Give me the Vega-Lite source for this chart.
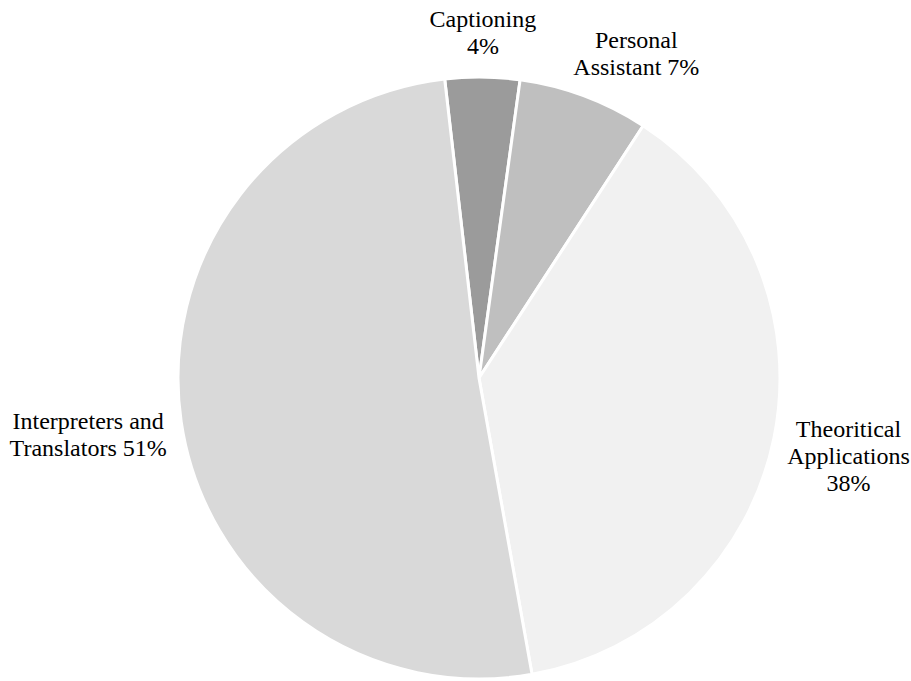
{
  "$schema": "https://vega.github.io/schema/vega-lite/v6.json",
  "width": 864,
  "height": 606,
  "autosize": {"type": "none"},
  "padding": {"left": 47, "top": 75, "right": 0, "bottom": 0},
  "background": "white",
  "config": {"view": {"stroke": null}, "text": {"font": "Liberation Serif, DejaVu Serif, serif", "fontSize": 24, "lineHeight": 27, "align": "center", "baseline": "middle", "color": "black"}},
  "data": {
    "values": [
      {"category": "Captioning", "value": 4, "label": "Captioning\n4%"},
      {"category": "Personal Assistant", "value": 7, "label": "Personal\nAssistant 7%"},
      {"category": "Theoritical Applications", "value": 38, "label": "Theoritical\nApplications\n38%"},
      {"category": "Interpreters and Translators", "value": 51, "label": "Interpreters and\nTranslators 51%"}
    ]
  },
  "transform": [{"window": [{"op": "row_number", "as": "idx"}]}],
  "encoding": {
    "theta": {"field": "value", "type": "quantitative", "stack": true, "scale": {"range": [-0.1143, 6.1689]}},
    "order": {"field": "idx", "type": "quantitative"}
  },
  "layer": [
    {
      "mark": {"type": "arc", "radius": 301, "stroke": "white", "strokeWidth": 3},
      "encoding": {
        "color": {
          "field": "category", "type": "nominal", "legend": null,
          "scale": {
            "domain": ["Captioning", "Personal Assistant", "Theoritical Applications", "Interpreters and Translators"],
            "range": ["#9b9b9b", "#bfbfbf", "#f1f1f1", "#d9d9d9"]
          }
        }
      }
    },
    {
      "mark": {"type": "text", "radius": 345, "dy": -13.5, "lineBreak": "\n", "font": "Liberation Serif, DejaVu Serif, serif"},
      "encoding": {"text": {"condition": {"test": "datum.category === 'Captioning'", "field": "label"}, "value": ""}}
    },
    {
      "mark": {"type": "text", "radius": 350, "dx": 35, "dy": -9, "lineBreak": "\n", "font": "Liberation Serif, DejaVu Serif, serif"},
      "encoding": {"text": {"condition": {"test": "datum.category === 'Personal Assistant'", "field": "label"}, "value": ""}}
    },
    {
      "mark": {"type": "text", "radius": 377, "dy": -22.5, "lineBreak": "\n", "font": "Liberation Serif, DejaVu Serif, serif"},
      "encoding": {"text": {"condition": {"test": "datum.category === 'Theoritical Applications'", "field": "label"}, "value": ""}}
    },
    {
      "mark": {"type": "text", "radius": 395, "dy": -13, "lineBreak": "\n", "font": "Liberation Serif, DejaVu Serif, serif"},
      "encoding": {"text": {"condition": {"test": "datum.category === 'Interpreters and Translators'", "field": "label"}, "value": ""}}
    }
  ]
}
